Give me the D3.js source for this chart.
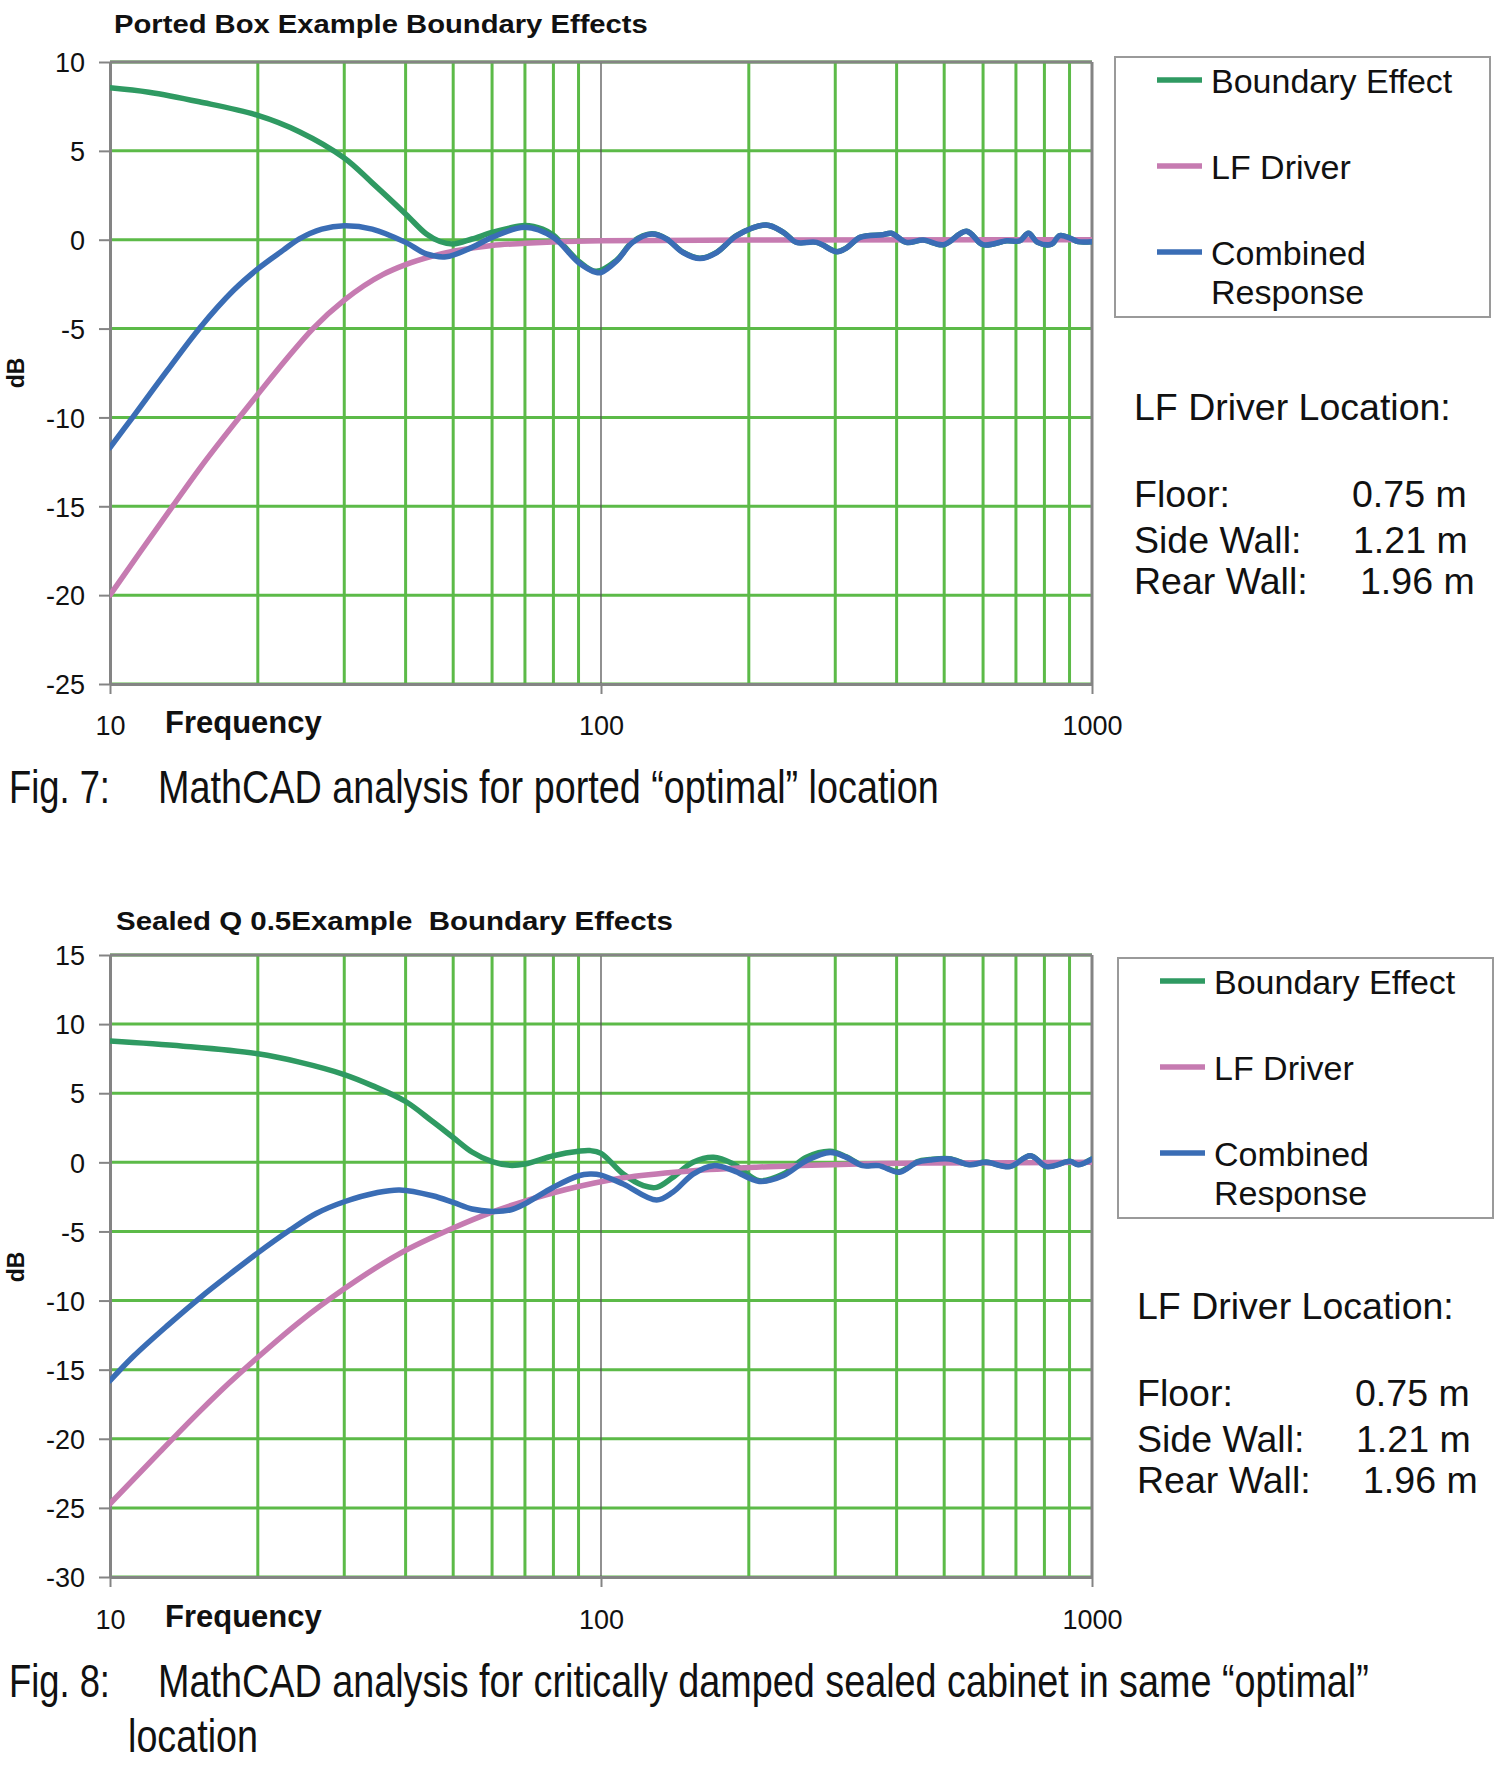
<!DOCTYPE html>
<html>
<head>
<meta charset="utf-8">
<script src="https://cdn.jsdelivr.net/npm/d3@7"></script>
<style>
  html, body { margin: 0; padding: 0; background: #fff; }
  svg { display: block; }
  text { font-family: "Liberation Sans", Arial, sans-serif; fill: #111; }
</style>
</head>
<body>
<svg id="chart" width="1504" height="1768"></svg>
<script>
// ---------------- DATA ----------------
const xTickLabels = [10, 100, 1000];
const xGridMinor = [20, 30, 40, 50, 60, 70, 80, 90, 200, 300, 400, 500, 600, 700, 800, 900];
const yTicksTop = [10, 5, 0, -5, -10, -15, -20, -25];
const yTicksBottom = [15, 10, 5, 0, -5, -10, -15, -20, -25, -30];

const legendNames = ["Boundary Effect", "LF Driver", "Combined Response"];
const locationLabels = ["Floor:", "Side Wall:", "Rear Wall:"];
const locationValues = ["0.75 m", "1.21 m", "1.96 m"];

// Fig. 7 – ported box
const portedBoundaryFreq = [10, 12, 15.2, 20, 24.3, 30, 34.2, 40, 44.1, 47, 50, 54.6, 60, 65, 70, 76, 80, 90, 97.7,
  107.6, 116, 126.9, 136, 146.9, 159, 172, 189, 217, 235, 250, 275, 302, 316, 337, 375, 390, 419, 453, 498, 555, 600, 670, 713, 742, 775, 827, 860, 910, 937, 1000];
const portedBoundaryDb = [8.55, 8.3, 7.76, 7.0, 6.08, 4.6, 3.2, 1.45, 0.32, -0.1, -0.24, 0.04, 0.41, 0.65, 0.8, 0.6, 0.25, -1.2, -1.78,
  -1.15, -0.12, 0.33, 0.05, -0.7, -1.04, -0.71, 0.24, 0.83, 0.42, -0.14, -0.14, -0.67, -0.46, 0.13, 0.28, 0.36, -0.15, -0.02, -0.28, 0.47, -0.28, -0.06, -0.06, 0.36, -0.15, -0.25, 0.23, 0.04, -0.11, -0.11];

const portedDriverFreq = [10, 11.5, 13.45, 15.25, 18.4, 20, 22.9, 25.9, 30, 36, 40, 45, 50, 60, 70, 100, 200, 1000];
const portedDriverDb = [-20, -17.6, -14.95, -12.85, -9.95, -8.7, -6.7, -5.0, -3.4, -1.95, -1.4, -0.95, -0.65, -0.32, -0.2, -0.06, -0.02, 0];

const portedCombinedFreq = [10, 11.15, 13.05, 15.25, 17.83, 20, 22.5, 24.3, 27, 30, 34.2, 40, 44.1, 48.4, 54.6, 60, 70, 80, 90, 97.7, 100,
  107.6, 116, 126.9, 136, 146.9, 159, 172, 189, 217, 235, 250, 275, 302, 316, 337, 375, 390, 419, 453, 498, 555, 600, 670, 713, 742, 775, 827, 860, 910, 937, 1000];
const portedCombinedDb = [-11.7, -9.95, -7.4, -4.95, -2.86, -1.64, -0.6, 0.05, 0.6, 0.79, 0.6, -0.15, -0.8, -0.96, -0.43, 0.13, 0.7, 0.13, -1.28, -1.84, -1.85,
  -1.2, -0.15, 0.32, 0.04, -0.72, -1.06, -0.72, 0.23, 0.83, 0.42, -0.15, -0.15, -0.68, -0.47, 0.13, 0.28, 0.36, -0.15, -0.02, -0.28, 0.47, -0.28, -0.06, -0.06, 0.36, -0.15, -0.25, 0.23, 0.04, -0.11, -0.11];

// Fig. 8 – sealed Q 0.5
const sealedBoundaryFreq = [10, 14.1, 20, 24.3, 30, 34.2, 40, 45.4, 50, 54.6, 60, 65.3, 70, 80, 90, 95, 100, 111, 122, 129.8, 140, 154, 169.5, 186, 210, 235, 262, 293, 316,
  341, 368, 405, 440, 468, 512, 563, 609, 680, 749, 809, 903, 937, 1000];
const sealedBoundaryDb = [8.77, 8.4, 7.85, 7.25, 6.35, 5.55, 4.4, 2.95, 1.8, 0.75, 0.05, -0.22, -0.12, 0.48, 0.8, 0.85, 0.65, -0.85, -1.69, -1.81, -1.09, 0, 0.36, -0.12, -1.33, -0.85, 0.36, 0.8, 0.4,
  -0.2, -0.2, -0.68, 0.04, 0.2, 0.26, -0.15, 0.02, -0.3, 0.48, -0.3, 0.08, -0.16, 0.24];

const sealedDriverFreq = [10, 12.64, 15.25, 17.5, 20, 24.4, 30, 38.9, 50, 60, 70, 80, 90, 97, 111, 152, 207, 296, 453, 1000];
const sealedDriverDb = [-24.7, -20.95, -18.0, -15.95, -14.1, -11.5, -9.15, -6.6, -4.75, -3.6, -2.8, -2.2, -1.75, -1.5, -1.12, -0.62, -0.35, -0.17, -0.05, 0];

const sealedCombinedFreq = [10, 11.15, 13.05, 15.25, 17.83, 20, 23.26, 26.3, 30, 34.9, 38.9, 45.4, 50, 54.6, 60, 65.3, 70, 80, 90, 95, 100, 111, 129.8, 140, 154, 169.5, 186, 210, 235, 262, 293, 316,
  341, 368, 405, 440, 468, 512, 563, 609, 680, 749, 809, 903, 937, 1000];
const sealedCombinedDb = [-15.8, -14.05, -11.85, -9.8, -7.9, -6.55, -4.9, -3.7, -2.85, -2.2, -2.0, -2.42, -2.9, -3.38, -3.55, -3.45, -3.0, -1.8, -0.97, -0.85, -0.92, -1.57, -2.73, -2.17, -0.85, -0.24, -0.6, -1.38, -0.97, 0.12, 0.72, 0.36,
  -0.24, -0.24, -0.72, 0, 0.17, 0.24, -0.17, 0, -0.31, 0.48, -0.31, 0.07, -0.17, 0.24];

// ---------------- STYLE ----------------
const seriesColors = ["#2f9a62", "#c67bb1", "#3a6db5"];
const gridGreen = "#5cba48";
const frameGray = "#848484";
const FONT = '"Liberation Sans", Arial, sans-serif';

const svg = d3.select("#chart");

function zip(f, v) { return f.map((d, i) => [d, v[i]]); }

// text squeezed horizontally to a target width (narrow typeface look)
function fitText(parent, str, x, y, size, width, bold) {
  const t = parent.append("text").attr("x", 0).attr("y", 0)
    .attr("font-size", size).attr("font-weight", bold ? "bold" : "normal")
    .attr("fill", "#000").style("white-space", "pre").text(str);
  const natural = t.node().getComputedTextLength() || width;
  t.attr("transform", `translate(${x},${y}) scale(${width / natural},1)`);
  return t;
}

function drawChart(cfg) {
  const g = svg.append("g");
  const x = d3.scaleLog().domain([10, 1000]).range([110, 1092]);
  const y = d3.scaleLinear().domain(cfg.yDomain).range([cfg.bottom, cfg.top]);

  // title
  fitText(g, cfg.title, cfg.titleX, cfg.titleY, 26, cfg.titleW, true);

  // horizontal grid
  g.append("g").selectAll("line").data(cfg.yTicks).join("line")
    .attr("x1", x(10)).attr("x2", x(1000))
    .attr("y1", d => y(d)).attr("y2", d => y(d))
    .attr("stroke", gridGreen).attr("stroke-width", 3);

  // vertical minor grid
  g.append("g").selectAll("line").data(xGridMinor).join("line")
    .attr("x1", d => x(d)).attr("x2", d => x(d))
    .attr("y1", cfg.top).attr("y2", cfg.bottom)
    .attr("stroke", gridGreen).attr("stroke-width", 3);

  // 100 Hz line
  g.append("line").attr("x1", x(100)).attr("x2", x(100))
    .attr("y1", cfg.top).attr("y2", cfg.bottom)
    .attr("stroke", "#555").attr("stroke-width", 1.3);

  // frame top & right
  g.append("line").attr("x1", x(10)).attr("x2", x(1000)).attr("y1", cfg.top).attr("y2", cfg.top)
    .attr("stroke", frameGray).attr("stroke-width", 3);
  g.append("line").attr("x1", x(1000)).attr("x2", x(1000)).attr("y1", cfg.top).attr("y2", cfg.bottom)
    .attr("stroke", frameGray).attr("stroke-width", 3);

  // y axis
  const yAxis = d3.axisLeft(y).tickValues(cfg.yTicks).tickSize(11).tickSizeOuter(0).tickPadding(14)
    .tickFormat(d3.format("d"));
  const ya = g.append("g").attr("transform", `translate(${x(10)},0)`).call(yAxis);
  ya.select(".domain").attr("stroke", frameGray).attr("stroke-width", 3);
  ya.selectAll(".tick line").attr("stroke", frameGray).attr("stroke-width", 2);
  ya.selectAll(".tick text").attr("font-size", 27).attr("font-family", FONT).attr("fill", "#111")
    .attr("dy", "0.36em").text(d => d < 0 ? "-" + Math.abs(d) : d);

  // x axis
  const xAxis = d3.axisBottom(x).tickValues(xTickLabels).tickSize(10).tickSizeOuter(0).tickPadding(20)
    .tickFormat(d3.format("d"));
  const xa = g.append("g").attr("transform", `translate(0,${cfg.bottom})`).call(xAxis);
  xa.select(".domain").attr("stroke", frameGray).attr("stroke-width", 3);
  xa.selectAll(".tick line").attr("stroke", frameGray).attr("stroke-width", 2);
  xa.selectAll(".tick text").attr("font-size", 27).attr("font-family", FONT).attr("fill", "#111")
    .attr("y", null).attr("dy", null)
    .attr("transform", `translate(0,${cfg.xLabelY - cfg.bottom})`);

  // axis titles
  g.append("text").attr("x", 165).attr("y", cfg.xLabelY - 2)
    .attr("font-weight", "bold").attr("font-size", 31).text("Frequency");
  g.append("text").attr("transform", `translate(24,${cfg.dbY}) rotate(-90)`)
    .attr("text-anchor", "middle").attr("font-weight", "bold").attr("font-size", 23).text("dB");

  // curves
  const lineWavy = d3.line().x(d => x(d[0])).y(d => y(d[1])).curve(d3.curveCatmullRom.alpha(0.5));
  const lineSmooth = d3.line().x(d => x(d[0])).y(d => y(d[1])).curve(d3.curveMonotoneX);
  const clipId = "clip" + cfg.id;
  svg.append("clipPath").attr("id", clipId).append("rect")
    .attr("x", x(10)).attr("y", cfg.top - 5).attr("width", x(1000) - x(10)).attr("height", cfg.bottom - cfg.top + 10);
  const cg = g.append("g").attr("clip-path", `url(#${clipId})`);
  cfg.series.forEach((s, i) => {
    cg.append("path").datum(s).attr("d", i === 1 ? lineSmooth : lineWavy)
      .attr("fill", "none").attr("stroke", seriesColors[i]).attr("stroke-width", 5.5)
      .attr("stroke-linejoin", "round").attr("stroke-linecap", "round");
  });

  // legend
  const L = g.append("g").attr("transform", `translate(${cfg.legX},${cfg.legY})`);
  L.append("rect").attr("x", 0).attr("y", 0).attr("width", 375).attr("height", 260)
    .attr("fill", "#fff").attr("stroke", "#9a9a9a").attr("stroke-width", 2);
  const rowY = [23, 109, 195];
  legendNames.forEach((name, i) => {
    L.append("line").attr("x1", 42).attr("x2", 87).attr("y1", rowY[i]).attr("y2", rowY[i])
      .attr("stroke", seriesColors[i]).attr("stroke-width", 5.5);
    const t = L.append("text").attr("x", 96).attr("y", rowY[i] + 13).attr("font-size", 34);
    if (i === 2) {
      const parts = name.split(" ");
      t.append("tspan").attr("x", 96).text(parts[0]);
      t.append("tspan").attr("x", 96).attr("dy", 39).text(parts[1]);
    } else {
      t.text(name);
    }
  });

  // location text
  const P = g.append("g").attr("transform", `translate(${cfg.locX},${cfg.locY})`);
  P.append("text").attr("x", 0).attr("y", 0).attr("font-size", 37.5).text("LF Driver Location:");
  const valueX = [218, 219, 226];
  const rowsY = [87, 133, 174];
  locationLabels.forEach((lab, i) => {
    P.append("text").attr("x", 0).attr("y", rowsY[i]).attr("font-size", 37.5).text(lab);
    P.append("text").attr("x", valueX[i]).attr("y", rowsY[i]).attr("font-size", 37.5).text(locationValues[i]);
  });

  // caption
  cfg.caption.forEach(c => fitText(g, c.text, c.x, c.y, 47, c.w, false));
}

drawChart({
  id: "top",
  title: "Ported Box Example Boundary Effects", titleX: 114, titleY: 33, titleW: 534,
  yDomain: [-25, 10], yTicks: yTicksTop, top: 62, bottom: 684,
  xLabelY: 735, dbY: 373,
  series: [zip(portedBoundaryFreq, portedBoundaryDb), zip(portedDriverFreq, portedDriverDb), zip(portedCombinedFreq, portedCombinedDb)],
  legX: 1115, legY: 57,
  locX: 1134, locY: 420,
  caption: [
    { text: "Fig. 7:", x: 9, y: 803, w: 101 },
    { text: "MathCAD analysis for ported \u201coptimal\u201d location", x: 158, y: 803, w: 781 }
  ]
});

drawChart({
  id: "bottom",
  title: "Sealed Q 0.5Example  Boundary Effects", titleX: 116, titleY: 930, titleW: 557,
  yDomain: [-30, 15], yTicks: yTicksBottom, top: 955, bottom: 1577,
  xLabelY: 1629, dbY: 1267,
  series: [zip(sealedBoundaryFreq, sealedBoundaryDb), zip(sealedDriverFreq, sealedDriverDb), zip(sealedCombinedFreq, sealedCombinedDb)],
  legX: 1118, legY: 958,
  locX: 1137, locY: 1319,
  caption: [
    { text: "Fig. 8:", x: 9, y: 1697, w: 101 },
    { text: "MathCAD analysis for critically damped sealed cabinet in same \u201coptimal\u201d", x: 158, y: 1697, w: 1211 },
    { text: "location", x: 128, y: 1752, w: 130 }
  ]
});
</script>
</body>
</html>
